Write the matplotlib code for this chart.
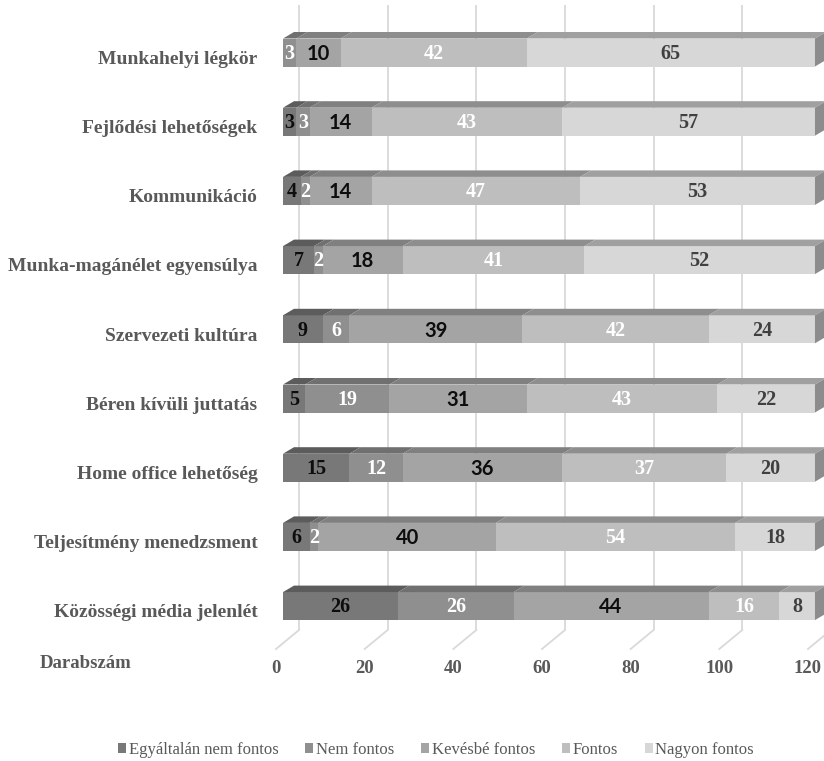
import numpy as np
import matplotlib
matplotlib.use("Agg")
import matplotlib.pyplot as plt
from matplotlib.patches import Polygon, Patch

# ---------------- data ----------------
categories = [
    "Munkahelyi légkör",
    "Fejlődési lehetőségek",
    "Kommunikáció",
    "Munka-magánélet egyensúlya",
    "Szervezeti kultúra",
    "Béren kívüli juttatás",
    "Home office lehetőség",
    "Teljesítmény menedzsment",
    "Közösségi média jelenlét",
]
series_names = ["Egyáltalán nem fontos", "Nem fontos", "Kevésbé fontos", "Fontos", "Nagyon fontos"]
egyaltalan = [0, 3, 4, 7, 9, 5, 15, 6, 26]
nem_fontos = [3, 3, 2, 2, 6, 19, 12, 2, 26]
kevesbe = [10, 14, 14, 18, 39, 31, 36, 40, 44]
fontos = [42, 43, 47, 41, 42, 43, 37, 54, 16]
nagyon = [65, 57, 53, 52, 24, 22, 20, 18, 8]
x_ticks = [0, 20, 40, 60, 80, 100, 120]
x_axis_title = "Darabszám"

series = [egyaltalan, nem_fontos, kevesbe, fontos, nagyon]

# ---------------- style ----------------
front_cols = ["#787878", "#8f8f8f", "#a4a4a4", "#bebebe", "#d7d7d7"]
top_cols = ["#5c5c5c", "#707070", "#808080", "#8e8e8e", "#a0a0a0"]
side_col = "#8c8c8c"
label_cols = ["#0d0d0d", "#ffffff", "#0d0d0d", "#ffffff", "#404040"]
label_fams = ["Liberation Serif", "Liberation Serif", "Lato", "Liberation Serif", "Liberation Serif"]
text_gray = "#595959"
grid_col = "#d9d9d9"

W, H = 824, 761
fig = plt.figure(figsize=(W / 100, H / 100), dpi=100)

# axes geometry (pixel layout)
ax_left_px, ax_right_px = 270, 824
ax_top_px, ax_bot_px = 0, 649
ax = fig.add_axes([ax_left_px / W, 1 - ax_bot_px / H,
                   (ax_right_px - ax_left_px) / W, (ax_bot_px - ax_top_px) / H])

ppu = 4.433          # pixels per value unit
x0_px = 283          # pixel of value 0 on bar front face
row_px = 69.2        # pixels per row
row0_px = 52.5       # pixel y of first row centre

ax.set_xlim((ax_left_px - x0_px) / ppu, (ax_right_px - x0_px) / ppu)
ax.set_ylim((ax_bot_px - row0_px) / row_px, (ax_top_px - row0_px) / row_px)

bar_h = 28 / row_px
top_dx = 11 / ppu
top_dy = 6.5 / row_px
back_dx = 16 / ppu
back_top = (5 - row0_px) / row_px
floor_back = (630 - row0_px) / row_px
floor_front = (ax_bot_px - row0_px) / row_px
front_dx = -7 / ppu

# back wall gridlines + floor lines
for v in x_ticks:
    ax.plot([v + back_dx, v + back_dx], [back_top, floor_back], color=grid_col, lw=1.3, zorder=0,
            solid_capstyle="butt")
    ax.plot([v + back_dx, v + front_dx], [floor_back, floor_front], color=grid_col, lw=1.3, zorder=0,
            clip_on=False)

# bars
y = np.arange(len(categories))
left = np.zeros(len(categories))
for s, vals in enumerate(series):
    vals = np.array(vals, dtype=float)
    ax.barh(y, vals, left=left, height=bar_h, color=front_cols[s], edgecolor="none", zorder=2)
    for i in range(len(categories)):
        if vals[i] <= 0:
            continue
        a, b = left[i], left[i] + vals[i]
        yt = i - bar_h / 2
        ax.add_patch(Polygon([(a, yt), (b, yt), (b + top_dx, yt - top_dy), (a + top_dx, yt - top_dy)],
                             closed=True, facecolor=top_cols[s], edgecolor="none", zorder=2))
        ax.text((a + b) / 2, i + 0.02, f"{int(vals[i])}", ha="center", va="center",
                color=label_cols[s], fontsize=14.5, fontweight="bold", family=label_fams[s], zorder=4)
    left = left + vals

# right side faces of full bars
for i in range(len(categories)):
    b = left[i]
    yt = i - bar_h / 2
    yb = i + bar_h / 2
    ax.add_patch(Polygon([(b, yt), (b + top_dx, yt - top_dy), (b + top_dx, yb - top_dy), (b, yb)],
                         closed=True, facecolor=side_col, edgecolor="none", zorder=2))

# axes
for sp in ax.spines.values():
    sp.set_visible(False)
ax.set_yticks(y + 0.07)
ax.set_yticklabels(categories, family="Liberation Serif", fontweight="bold", fontsize=14, color=text_gray)
ax.set_xticks(np.array(x_ticks) + front_dx)
ax.set_xticklabels([str(t) for t in x_ticks], family="Liberation Serif", fontweight="bold",
                   fontsize=13.5, color=text_gray)
ax.tick_params(axis="y", length=0, pad=9)
ax.tick_params(axis="x", length=0, pad=8)
ax.set_facecolor("none")

fig.text(40 / W, 1 - 663 / H, x_axis_title, ha="left", va="center", family="Liberation Serif",
         fontweight="bold", fontsize=13.5, color=text_gray)

handles = [Patch(facecolor=c, edgecolor="none") for c in front_cols]
leg = fig.legend(handles, series_names, loc="center", bbox_to_anchor=(436 / W, 1 - 750 / H), ncol=5,
                 frameon=False, handlelength=0.5, handleheight=0.5, handletextpad=0.15,
                 columnspacing=1.6, prop={"family": "Liberation Serif", "size": 12})
for t in leg.get_texts():
    t.set_color(text_gray)

fig.savefig("out.png", dpi=100)
